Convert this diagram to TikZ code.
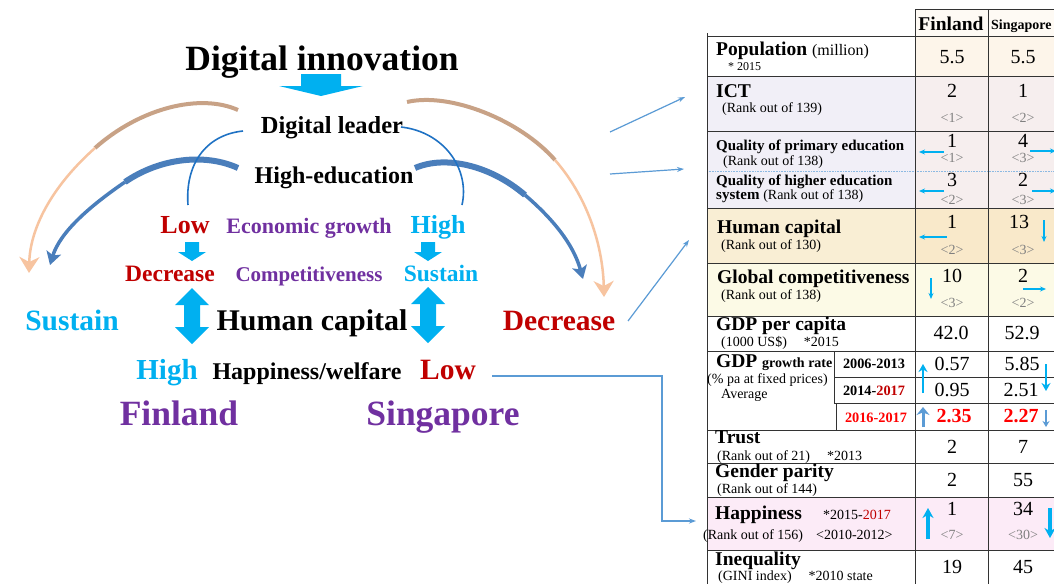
\documentclass[tikz,border=0pt]{standalone}
\usepackage{fontspec}
\setmainfont{Liberation Serif}
\usetikzlibrary{arrows.meta}
\definecolor{cy}{HTML}{00B0F0}
\definecolor{rd}{HTML}{C00000}
\definecolor{brd}{HTML}{FF0000}
\definecolor{pu}{HTML}{7030A0}
\definecolor{steel}{HTML}{4A7EBB}
\definecolor{thinb}{HTML}{1F72C4}
\definecolor{tantop}{HTML}{C8A286}
\definecolor{tanbot}{HTML}{F7C4A0}
\definecolor{conb}{HTML}{5B9BD5}
\definecolor{hdr}{HTML}{FEFAF4}
\definecolor{popv}{HTML}{FDF5EA}
\definecolor{ictl}{HTML}{F1EFF7}
\definecolor{ictv}{HTML}{F6EEEE}
\definecolor{hcl}{HTML}{F9EED4}
\definecolor{hcv}{HTML}{F9E9CA}
\definecolor{gcl}{HTML}{FCFAE6}
\definecolor{hap}{HTML}{FCEBF7}
\definecolor{gry}{HTML}{808080}
\newcommand\myfs[1]{\fontsize{#1}{#1}\selectfont}
\begin{document}
\begin{tikzpicture}[x=1pt,y=-1pt,
  t/.style={inner sep=0pt, anchor=base},
  tw/.style={inner sep=0pt, anchor=base west},
  tl/.style={draw=black!80, line width=0.8pt},
  tarr/.style={cy, line width=1.4pt, -{Stealth[length=6pt,width=5pt]}},
  conn/.style={conb, line width=1.2pt, -{Stealth[length=7pt,width=5pt]}},
  lab/.style={tw, font=\myfs{19.5}\bfseries},
  sub/.style={tw, font=\myfs{14}},
  val/.style={t, font=\myfs{20}},
  rk/.style={t, font=\myfs{14}, text=gry}]
\useasboundingbox (0,0) rectangle (1054,584);
\fill[white] (0,0) rectangle (1054,584);

% ---------------- left diagram ----------------
\node[t, font=\myfs{35.5}\bfseries] (di) at (322,70) {Digital innovation};
\fill[cy] (301,74) -- (341,74) -- (341,86) -- (363,86) -- (321,96) -- (279,86) -- (301,86) -- cycle;
\node[t, font=\myfs{24.5}\bfseries] (dl) at (332,133) {Digital leader};
\node[t, font=\myfs{24}\bfseries] (he) at (334,183) {High-education};

\node[t, font=\myfs{26}\bfseries, text=rd] (low1) at (185,233) {Low};
\node[t, font=\myfs{22}\bfseries, text=pu] (eg) at (309,233) {Economic growth};
\node[t, font=\myfs{26}\bfseries, text=cy] (high1) at (438,233) {High};

\fill[cy] (185,242) -- (199,242) -- (199,252) -- (206,252) -- (192,261) -- (178,252) -- (185,252) -- cycle;
\fill[cy] (421,242) -- (435,242) -- (435,252) -- (442,252) -- (428,261) -- (414,252) -- (421,252) -- cycle;

\node[t, font=\myfs{23.5}\bfseries, text=rd] (dec1) at (170,281) {Decrease};
\node[t, font=\myfs{21}\bfseries, text=pu] (comp) at (309,281) {Competitiveness};
\node[t, font=\myfs{23.5}\bfseries, text=cy] (sus1) at (441,281) {Sustain};

\fill[cy] (192,288) -- (209,305) -- (200,305) -- (200,327) -- (209,327) -- (192,344) -- (175,327) -- (184,327) -- (184,305) -- (175,305) -- cycle;
\fill[cy] (428,287) -- (445,304) -- (436,304) -- (436,326) -- (445,326) -- (428,343) -- (411,326) -- (420,326) -- (420,304) -- (411,304) -- cycle;

\node[t, font=\myfs{29.5}\bfseries, text=cy] (sus2) at (72,330) {Sustain};
\node[t, font=\myfs{30}\bfseries] (hc) at (312,330) {Human capital};
\node[t, font=\myfs{29.5}\bfseries, text=rd] (dec2) at (559,330) {Decrease};

\node[t, font=\myfs{29}\bfseries, text=cy] (high2) at (167,379) {High};
\node[t, font=\myfs{24}\bfseries] (hw) at (307,379) {Happiness/welfare};
\node[t, font=\myfs{29.5}\bfseries, text=rd] (low2) at (448,379) {Low};

\node[t, font=\myfs{35.5}\bfseries, text=pu] (fin) at (179,425) {Finland};
\node[t, font=\myfs{35.5}\bfseries, text=pu] (sgp) at (443,425) {Singapore};

% arcs
\coordinate (ta1) at (238,110); \coordinate (tm1) at (95,148); \coordinate (te1) at (29,273);
\coordinate (ta2) at (407,102); \coordinate (tm2) at (555,160); \coordinate (te2) at (604,297);
\draw[tantop, line width=4pt] (ta1) .. controls (200,93) and (140,108) .. (tm1);
\draw[tanbot, line width=2.5pt, -{Stealth[length=16pt,width=20pt,inset=5pt]}] (tm1) .. controls (50,188) and (30,230) .. (te1);
\draw[tantop, line width=4pt] (ta2) .. controls (450,92) and (520,120) .. (tm2);
\draw[tanbot, line width=2.5pt, -{Stealth[length=16pt,width=20pt,inset=5pt]}] (tm2) .. controls (590,200) and (603,250) .. (te2);

\coordinate (sa1) at (238,168); \coordinate (sm1) at (125,182); \coordinate (se1) at (50,265);
\coordinate (sa2) at (415,168); \coordinate (sm2) at (525,195); \coordinate (se2) at (583,279);
\draw[steel, line width=6pt] (sa1) .. controls (205,153) and (160,158) .. (sm1);
\draw[steel, line width=3.5pt, -{Stealth[length=13pt,width=15pt,inset=3pt]}] (sm1) .. controls (90,206) and (60,232) .. (se1);
\draw[steel, line width=6pt] (sa2) .. controls (445,155) and (490,165) .. (sm2);
\draw[steel, line width=3.5pt, -{Stealth[length=13pt,width=15pt,inset=3pt]}] (sm2) .. controls (560,225) and (575,250) .. (se2);

\coordinate (ba1) at (243,131); \coordinate (be1) at (188,205);
\coordinate (ba2) at (401,127); \coordinate (be2) at (462,205);
\draw[thinb, line width=1.6pt] (ba1) .. controls (205,135) and (185,165) .. (be1);
\draw[thinb, line width=1.6pt] (ba2) .. controls (445,132) and (470,170) .. (be2);

% connectors to table
\coordinate (c1s) at (610,132); \coordinate (c1e) at (685,97);
\coordinate (c2s) at (610,174); \coordinate (c2e) at (684,169);
\coordinate (c3s) at (628,321); \coordinate (c3e) at (689,240);
\coordinate (c4s) at (492,376); \coordinate (c4e) at (696,521);
\draw[conn] (c1s) -- (c1e);
\draw[conn] (c2s) -- (c2e);
\draw[conn] (c3s) -- (c3e);
\draw[conn] (c4s) -- (662,376) -- (662,521) -- (c4e);

% ---------------- table ----------------
\fill[hdr] (915,9) rectangle (1054,36);
\fill[popv] (915,36) rectangle (1054,76);
\fill[ictl] (707,76) rectangle (915,208);
\fill[ictv] (915,76) rectangle (1054,208);
\fill[hcl] (707,208) rectangle (915,263);
\fill[hcv] (915,208) rectangle (1054,263);
\fill[gcl] (707,263) rectangle (1054,316);
\fill[hap] (707,497) rectangle (1054,550);

\draw[tl] (915,9) -- (1060,9);
\foreach \yy in {36,76,131,208,263,316,351,430,463,497,550}
  \draw[tl] (707,\yy) -- (1060,\yy);
\draw[conb!70, densely dotted, line width=0.6pt] (707,171) -- (1060,171);
\draw[tl] (707,33) -- (707,584);
\draw[tl] (915,9) -- (915,584);
\draw[tl] (988,9) -- (988,584);
\draw[tl] (834,351) -- (834,403);
\draw[tl] (836,403) -- (836,430);
\draw[tl] (834,377) -- (1060,377);
\draw[tl] (834,403) -- (1060,403);

% header
\node[t, font=\myfs{19.5}\bfseries] (hfin) at (951,30) {Finland};
\node[tw, font=\myfs{14}\bfseries] (hsgp) at (991,29) {Singapore};

% labels
\node[lab] (lpop) at (716,55) {Population \myfs{16}\mdseries(million)};
\node[tw, font=\myfs{12}] at (728,70) {* 2015};
\node[lab] (lict) at (716,97) {ICT};
\node[sub] at (722,112) {(Rank out of 139)};
\node[tw, font=\myfs{15}\bfseries] (lqp) at (716,150) {Quality of primary education};
\node[sub] at (723,165) {(Rank out of 138)};
\node[tw, font=\myfs{15}\bfseries] (lqh) at (716,185) {Quality of higher education};
\node[tw, font=\myfs{14}] at (716,199) {\bfseries\myfs{15}system \mdseries\myfs{14}(Rank out of 138)};
\node[lab] (lhc) at (717,233) {Human capital};
\node[sub] at (721,249) {(Rank out of 130)};
\node[lab] (lgc) at (717,283) {Global competitiveness};
\node[sub] at (721,299) {(Rank out of 138)};
\node[lab] (lgdp) at (716,330) {GDP per capita};
\node[sub] at (721,346) {(1000 US\$) \hspace{10pt} *2015};
\node[lab] (lgr) at (716,367) {GDP \myfs{14}growth rate};
\node[sub] at (707,383) {(\% pa at fixed prices)};
\node[sub] at (721,398) {Average};
\node[t, font=\myfs{14.3}\bfseries] at (874,368) {2006-2013};
\node[t, font=\myfs{14.3}\bfseries] at (874,395) {2014-\textcolor{rd}{2017}};
\node[t, font=\myfs{14.3}\bfseries, text=brd] at (876,422) {2016-2017};
\node[lab] (ltr) at (715,443) {Trust};
\node[sub] at (717,460) {(Rank out of 21) \hspace{10pt} *2013};
\node[lab] (lgp) at (715,477) {Gender parity};
\node[sub] at (717,493) {(Rank out of 144)};
\node[lab] (lhap) at (715,519) {Happiness};
\node[sub] at (823,519) {*2015-\textcolor{rd}{2017}};
\node[sub] at (703,539) {(Rank out of 156) \hspace{6pt} {<}2010-2012{>}};
\node[lab] (lineq) at (715,565) {Inequality};
\node[sub] at (718,580) {(GINI index) \hspace{10pt} *2010 state};

% values
\node[val] at (952,63) {5.5};      \node[val] at (1023,63) {5.5};
\node[val] at (952,97) {2};        \node[val] at (1023,97) {1};
\node[rk] at (952,122) {<1>};      \node[rk] at (1023,122) {<2>};
\node[val] at (952,147) {1};       \node[val] at (1023,147) {4};
\node[rk] at (952,162) {<1>};      \node[rk] at (1023,162) {<3>};
\node[val] at (952,186) {3};       \node[val] at (1023,186) {2};
\node[rk] at (952,204) {<2>};      \node[rk] at (1023,204) {<3>};
\node[val] at (952,228) {1};       \node[val] at (1019,228) {13};
\node[rk] at (952,254) {<2>};      \node[rk] at (1023,254) {<3>};
\node[val] at (952,282) {10};      \node[val] at (1023,282) {2};
\node[rk] at (952,307) {<3>};      \node[rk] at (1023,307) {<2>};
\node[val] at (951,339) {42.0};    \node[val] at (1022,339) {52.9};
\node[val] at (952,370) {0.57};    \node[val] at (1022,370) {5.85};
\node[val] at (952,396) {0.95};    \node[val] at (1021,396) {2.51};
\node[val, font=\myfs{20}\bfseries, text=brd] at (954,422) {2.35};
\node[val, font=\myfs{20}\bfseries, text=brd] at (1021,422) {2.27};
\node[val] at (952,453) {2};       \node[val] at (1023,453) {7};
\node[val] at (952,486) {2};       \node[val] at (1023,486) {55};
\node[val] at (952,515) {1};       \node[val] at (1023,515) {34};
\node[rk] at (952,539) {<7>};      \node[rk] at (1023,539) {<30>};
\node[val] at (952,573) {19};      \node[val] at (1023,573) {45};

% table arrows
\draw[tarr] (944,152) -- (919,152);
\draw[tarr] (1030,151) -- (1056,151);
\draw[tarr] (944,191) -- (919,191);
\draw[tarr] (1032,191) -- (1056,191);
\draw[tarr] (947,237) -- (919,237);
\draw[tarr] (1044,220) -- (1044,242);
\draw[tarr] (931,278) -- (931,299);
\draw[tarr] (1023,289) -- (1046,289);
\draw[cy, line width=2.5pt, -{Stealth[length=8pt,width=9pt]}] (923,393) -- (923,364);
\draw[cy, line width=2.5pt, -{Stealth[length=8pt,width=9pt]}] (1046,364) -- (1046,391);
\draw[conb, line width=3pt, -{Stealth[length=8pt,width=13pt]}] (923,427) -- (923,407);
\draw[conb, line width=1.5pt, -{Stealth[length=6pt,width=7pt]}] (1046,410) -- (1046,427);
\draw[cy, line width=3.5pt, -{Stealth[length=10pt,width=11pt]}] (928,539) -- (928,508);
\draw[cy, line width=3.5pt, -{Stealth[length=10pt,width=11pt]}] (1050,508) -- (1050,538);
\end{tikzpicture}
\end{document}
